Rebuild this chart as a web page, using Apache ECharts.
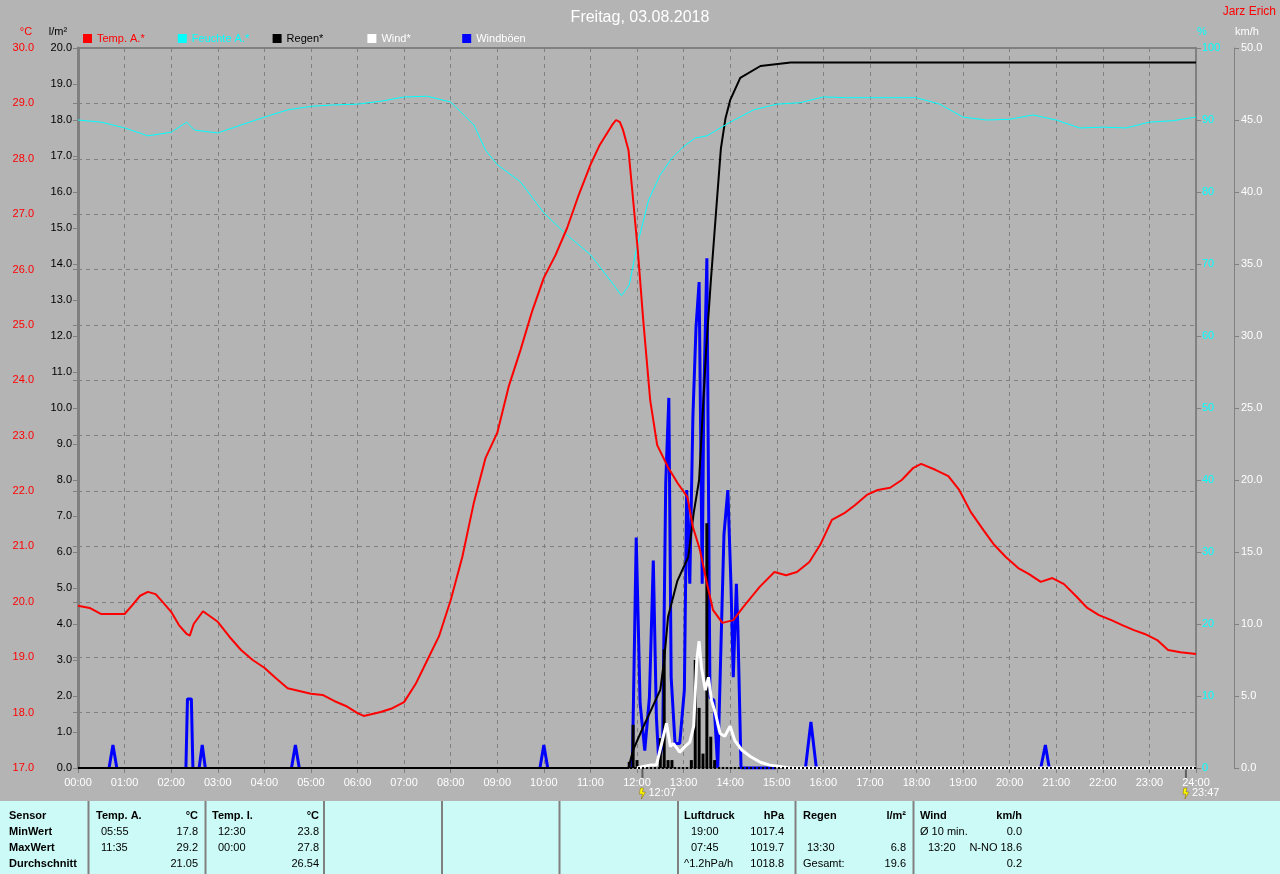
<!DOCTYPE html>
<html>
<head>
<meta charset="utf-8">
<title>Freitag, 03.08.2018</title>
<script src="https://cdn.jsdelivr.net/npm/echarts@6/dist/echarts.min.js"></script>
<style>
  html, body { margin: 0; padding: 0; background: #b4b4b4; }
  #chart { width: 1280px; height: 874px; }
</style>
</head>
<body>
<div id="chart"></div>
<script>
// values, time as HH:MM
const tempData = [
  ['00:00', 19.93], ['00:15', 19.89], ['00:30', 19.78], ['00:45', 19.78], ['01:00', 19.78],
  ['01:10', 19.94], ['01:20', 20.11], ['01:30', 20.18], ['01:40', 20.14], ['01:50', 19.98],
  ['02:00', 19.82], ['02:10', 19.58], ['02:20', 19.42], ['02:24', 19.39], ['02:29', 19.60],
  ['02:41', 19.83], ['03:00', 19.64], ['03:15', 19.37], ['03:30', 19.13], ['03:45', 18.95],
  ['04:00', 18.81], ['04:15', 18.62], ['04:30', 18.44], ['04:45', 18.39], ['05:00', 18.34],
  ['05:15', 18.32], ['05:30', 18.21], ['05:45', 18.12], ['06:00', 17.99], ['06:08', 17.94],
  ['06:30', 18.01], ['06:45', 18.08], ['07:00', 18.19], ['07:15', 18.52], ['07:30', 18.95],
  ['07:45', 19.38], ['08:00', 20.03], ['08:15', 20.81], ['08:30', 21.80], ['08:45', 22.60],
  ['09:00', 23.05], ['09:15', 23.90], ['09:30', 24.55], ['09:45', 25.25], ['10:00', 25.85],
  ['10:15', 26.26], ['10:30', 26.75], ['10:45', 27.35], ['11:00', 27.89], ['11:12', 28.25],
  ['11:28', 28.61], ['11:33', 28.70], ['11:38', 28.66], ['11:42', 28.52], ['11:49', 28.16],
  ['11:55', 27.26], ['12:01', 26.35], ['12:08', 25.09], ['12:17', 23.64], ['12:26', 22.83],
  ['12:40', 22.43], ['12:52', 22.15], ['13:05', 21.89], ['13:12', 21.35], ['13:21', 20.94],
  ['13:30', 20.34], ['13:38', 19.85], ['13:50', 19.62], ['14:04', 19.67], ['14:17', 19.91],
  ['14:38', 20.27], ['14:57', 20.54], ['15:12', 20.48], ['15:26', 20.54], ['15:42', 20.72],
  ['15:56', 21.03], ['16:11', 21.48], ['16:27', 21.60], ['16:41', 21.75], ['16:56', 21.93],
  ['17:10', 22.02], ['17:26', 22.06], ['17:41', 22.20], ['17:56', 22.42], ['18:06', 22.49],
  ['18:25', 22.38], ['18:41', 22.27], ['18:55', 22.02], ['19:10', 21.62], ['19:26', 21.30],
  ['19:40', 21.03], ['19:55', 20.81], ['20:11', 20.61], ['20:25', 20.50], ['20:40', 20.36],
  ['20:55', 20.43], ['21:10', 20.32], ['21:25', 20.11], ['21:40', 19.89], ['21:55', 19.76],
  ['22:11', 19.67], ['22:25', 19.58], ['22:40', 19.49], ['22:54', 19.42], ['23:10', 19.31],
  ['23:24', 19.13], ['23:40', 19.09], ['24:00', 19.06]
];

const humData = [
  ['00:00', 90.0], ['00:30', 89.7], ['01:00', 88.9], ['01:30', 87.8], ['02:00', 88.3],
  ['02:20', 89.7], ['02:30', 88.6], ['03:00', 88.2], ['03:30', 89.3], ['04:00', 90.4],
  ['04:30', 91.4], ['05:00', 91.9], ['05:30', 92.1], ['06:00', 92.2], ['06:30', 92.6],
  ['07:00', 93.2], ['07:30', 93.3], ['08:00', 92.5], ['08:30', 89.3], ['08:45', 85.8],
  ['09:00', 83.8], ['09:30', 81.4], ['10:00', 77.1], ['10:30', 74.0], ['11:00', 71.3],
  ['11:30', 67.1], ['11:40', 65.6], ['11:50', 67.1], ['12:00', 72.5], ['12:15', 78.9],
  ['12:30', 82.4], ['12:45', 84.7], ['13:00', 86.3], ['13:15', 87.5], ['13:30', 87.8],
  ['14:00', 89.7], ['14:30', 91.4], ['15:00', 92.2], ['15:30', 92.4], ['16:00', 93.2],
  ['16:30', 93.1], ['17:00', 93.1], ['17:30', 93.1], ['18:00', 93.1], ['18:30', 92.2],
  ['19:00', 90.4], ['19:30', 90.0], ['20:00', 90.1], ['20:30', 90.7], ['21:00', 90.0],
  ['21:30', 88.9], ['22:00', 89.0], ['22:30', 88.9], ['23:00', 89.7], ['23:30', 89.9],
  ['24:00', 90.4]
];

// 5 minute rain amounts (l/m²)
const rainBars = [
  ['11:50', 0.17], ['11:55', 1.2], ['12:00', 0.22], ['12:30', 0.83], ['12:35', 3.3],
  ['12:40', 0.22], ['12:45', 0.22], ['13:10', 0.22], ['13:15', 3.0], ['13:20', 1.67],
  ['13:25', 0.4], ['13:30', 6.8], ['13:35', 0.87], ['13:40', 0.22]
];

// rain sum (l/m²)
const rainSum = [
  ['00:00', 0], ['11:49', 0], ['11:55', 0.5], ['12:08', 1.14], ['12:17', 1.56],
  ['12:30', 2.17], ['12:35', 3.0], ['12:40', 4.2], ['12:52', 5.2], ['13:06', 5.86],
  ['13:13', 7.08], ['13:20', 8.0], ['13:29', 11.6], ['13:35', 13.5], ['13:42', 15.5],
  ['13:48', 17.2], ['13:54', 18.05], ['14:00', 18.55], ['14:13', 19.17], ['14:39', 19.5],
  ['15:18', 19.6], ['24:00', 19.6]
];

// wind (km/h)
const windData = [
  ['12:00', 0], ['12:08', 0.1], ['12:17', 0.2], ['12:25', 0.2], ['12:38', 3.1],
  ['12:43', 1.5], ['12:47', 1.7], ['12:55', 1.1], ['13:02', 1.5], ['13:08', 1.8],
  ['13:13', 2.9], ['13:17', 7.5], ['13:20', 8.8], ['13:23', 7.0], ['13:28', 5.4],
  ['13:32', 6.3], ['13:36', 4.7], ['13:41', 3.8], ['13:47', 2.4], ['13:53', 2.2],
  ['14:00', 2.9], ['14:06', 1.9], ['14:15', 1.25], ['14:26', 0.8], ['14:39', 0.4],
  ['14:51', 0.2], ['15:17', 0], ['24:00', 0]
];

// gusts (km/h); null = no gust, line broken
const gustData = [
  ['00:40', 0], ['00:45', 1.6], ['00:50', 0], ['00:55', null],
  ['02:19', 0], ['02:21', 4.8], ['02:26', 4.8], ['02:28', 0], ['02:32', null],
  ['02:36', 0], ['02:40', 1.6], ['02:44', 0], ['02:50', null],
  ['04:35', 0], ['04:40', 1.6], ['04:45', 0], ['04:50', null],
  ['09:55', 0], ['10:00', 1.6], ['10:05', 0], ['10:10', null],
  ['11:54', 0], ['11:59', 16.0], ['12:04', 4.5], ['12:10', 1.2], ['12:16', 4.9],
  ['12:21', 14.4], ['12:25', 3.5], ['12:28', 0.5], ['12:33', 1.6], ['12:37', 19.8],
  ['12:41', 25.7], ['12:44', 6.3], ['12:49', 1.7], ['12:55', 1.7], ['13:01', 5.4],
  ['13:04', 19.3], ['13:08', 12.8], ['13:12', 24.4], ['13:16', 30.6], ['13:20', 33.75],
  ['13:24', 12.8], ['13:26', 25.6], ['13:30', 35.4], ['13:34', 4.9], ['13:39', 4.7],
  ['13:44', 0], ['13:48', 8.2], ['13:52', 16.2], ['13:57', 19.3], ['14:01', 12.8],
  ['14:04', 6.3], ['14:08', 12.8], ['14:10', 9.6], ['14:14', 0], ['14:59', 0], ['15:05', null],
  ['15:37', 0], ['15:44', 3.2], ['15:51', 0], ['15:55', null],
  ['20:40', 0], ['20:46', 1.6], ['20:51', 0]
];

const markerTimes = ['12:07', '23:47'];

const legendNames = ['Temp. A.*', 'Feuchte A.*', 'Regen*', 'Wind*', 'Windböen'];
const legendTextColors = ['#ff0000', '#00ffff', '#000000', '#ffffff', '#ffffff'];

// bottom table, 4 rows x 11 columns
const tableRows = [
  ['Sensor', 'Temp. A.', '°C', 'Temp. I.', '°C', 'Luftdruck', 'hPa', 'Regen', 'l/m²', 'Wind', 'km/h'],
  ['MinWert', '05:55', '17.8', '12:30', '23.8', '19:00', '1017.4', '', '', 'Ø 10 min.', '0.0'],
  ['MaxWert', '11:35', '29.2', '00:00', '27.8', '07:45', '1019.7', '13:30', '6.8', '13:20', 'N-NO 18.6'],
  ['Durchschnitt', '', '21.05', '', '26.54', '^1.2hPa/h', '1018.8', 'Gesamt:', '19.6', '', '0.2']
];
const tableSeparators = [88.5, 205.5, 324, 442, 559.5, 678, 795.5, 913.5];

const hours = s => { const [h, m] = s.split(':').map(Number); return h + m / 60; };
const pts = arr => arr.map(([t, v]) => [hours(t), v]);
const two = n => (n < 10 ? '0' : '') + n;

const FONT = '"Liberation Sans", Arial, sans-serif';
const GRID_GRAY = '#808080';

const chart = echarts.init(document.getElementById('chart'));

const yBase = {
  type: 'value',
  axisLine: { show: true, lineStyle: { color: GRID_GRAY, width: 1 } },
  axisTick: { show: true, length: 5, lineStyle: { color: GRID_GRAY } },
  splitLine: { show: false }
};

const option = {
  animation: false,
  backgroundColor: '#b4b4b4',
  textStyle: { fontFamily: FONT },
  title: {
    text: 'Freitag, 03.08.2018',
    left: 'center',
    top: 5,
    textStyle: { color: '#ffffff', fontSize: 16, fontWeight: 'normal', fontFamily: FONT }
  },
  // one legend per item, evenly spaced like the original
  legend: legendNames.map((name, i) => ({
    left: 83 + i * 94.8,
    top: 33,
    padding: 0,
    selectedMode: false,
    icon: 'rect',
    itemWidth: 9,
    itemHeight: 9,
    itemGap: 5,
    textStyle: { fontSize: 11, fontFamily: FONT, color: legendTextColors[i] },
    data: [name]
  })),
  grid: {
    left: 78, right: 84, top: 48, bottom: 106,
    show: true, borderColor: GRID_GRAY, borderWidth: 2
  },
  xAxis: {
    type: 'value',
    min: 0, max: 24, interval: 1,
    axisLine: { show: true, lineStyle: { color: GRID_GRAY, width: 1 } },
    axisTick: { show: true, length: 5, lineStyle: { color: GRID_GRAY } },
    axisLabel: {
      color: '#ffffff', fontSize: 11, margin: 9,
      formatter: v => two(v) + ':00'
    },
    splitLine: { show: true, lineStyle: { color: GRID_GRAY, type: [4, 4], width: 1 } }
  },
  yAxis: [
    Object.assign({}, yBase, {
      min: 17, max: 30, interval: 1, position: 'left', offset: 37,
      axisLabel: { color: '#ff0000', fontSize: 11, margin: 7, formatter: v => v.toFixed(1) },
      splitLine: { show: true, lineStyle: { color: GRID_GRAY, type: [4, 4], width: 1 } }
    }),
    Object.assign({}, yBase, {
      min: 0, max: 20, interval: 1, position: 'left', offset: 0,
      axisLine: { show: true, lineStyle: { color: GRID_GRAY, width: 3 } },
      axisLabel: { color: '#000000', fontSize: 11, margin: 6, formatter: v => v.toFixed(1) }
    }),
    Object.assign({}, yBase, {
      min: 0, max: 100, interval: 10, position: 'right', offset: 0,
      axisLine: { show: true, lineStyle: { color: GRID_GRAY, width: 2 } },
      axisLabel: { color: '#00ffff', fontSize: 11, margin: 6 }
    }),
    Object.assign({}, yBase, {
      min: 0, max: 50, interval: 5, position: 'right', offset: 38,
      axisLabel: { color: '#ffffff', fontSize: 11, margin: 7, formatter: v => v.toFixed(1) }
    })
  ],
  series: [
    {
      name: 'Windböen', type: 'line', yAxisIndex: 3, data: pts(gustData),
      symbol: 'none', z: 2, connectNulls: false,
      lineStyle: { color: '#0000ff', width: 3 }, itemStyle: { color: '#0000ff' }
    },
    {
      name: 'Regen*', type: 'bar', yAxisIndex: 1, data: pts(rainBars),
      barWidth: 3, z: 3, itemStyle: { color: '#000000' }
    },
    {
      name: 'Wind*', type: 'line', yAxisIndex: 3, data: pts(windData),
      symbol: 'none', z: 4,
      lineStyle: { color: '#ffffff', width: 3 }, itemStyle: { color: '#ffffff' },
      markLine: {
        silent: true, symbol: 'none', label: { show: false },
        lineStyle: { color: '#000000', type: [2, 2], width: 2 },
        data: [{ yAxis: 0 }]
      }
    },
    {
      name: 'Regen*', type: 'line', yAxisIndex: 1, data: pts(rainSum),
      symbol: 'none', z: 5,
      lineStyle: { color: '#000000', width: 2 }, itemStyle: { color: '#000000' }
    },
    {
      name: 'Feuchte A.*', type: 'line', yAxisIndex: 2, data: pts(humData),
      symbol: 'none', z: 6,
      lineStyle: { color: '#00ffff', width: 1 }, itemStyle: { color: '#00ffff' }
    },
    {
      name: 'Temp. A.*', type: 'line', yAxisIndex: 0, data: pts(tempData),
      symbol: 'none', z: 7,
      lineStyle: { color: '#ff0000', width: 2 }, itemStyle: { color: '#ff0000' }
    }
  ]
};

chart.setOption(option);

// texts and table drawn around the plot
const txt = (x, y, text, color, style) => ({
  type: 'text', x, y, silent: true,
  style: Object.assign({
    text, fill: color, font: '11px ' + FONT,
    textAlign: 'left', textVerticalAlign: 'middle'
  }, style || {})
});

const elements = [
  txt(1276, 12, 'Jarz Erich', '#ff0000', { textAlign: 'right', font: '12px ' + FONT }),
  txt(26, 32, '°C', '#ff0000', { textAlign: 'center' }),
  txt(58, 32, 'l/m²', '#000000', { textAlign: 'center' }),
  txt(1202, 32, '%', '#00ffff', { textAlign: 'center' }),
  txt(1247, 32, 'km/h', '#ffffff', { textAlign: 'center' }),
  { type: 'rect', shape: { x: 0, y: 801, width: 1280, height: 73 }, style: { fill: '#ccfaf6' }, silent: true }
];

tableSeparators.forEach(x => {
  elements.push({
    type: 'line', silent: true,
    shape: { x1: x, y1: 801, x2: x, y2: 874 },
    style: { stroke: GRID_GRAY, lineWidth: 2 }
  });
});

// column x and alignment for the 11 table columns
const tableCols = [
  [9, 'left'], [96, 'left'], [198, 'right'], [212, 'left'], [319, 'right'],
  [684, 'left'], [784, 'right'], [803, 'left'], [906, 'right'], [920, 'left'], [1022, 'right']
];
const rowY = [816, 832, 848, 864];
tableRows.forEach((row, r) => {
  row.forEach((cell, c) => {
    if (!cell) return;
    let x = tableCols[c][0];
    // indented time values under the headers
    if (r > 0 && c === 1) x = 101;
    if (r > 0 && c === 3) x = 218;
    if (r > 0 && r < 3 && c === 5) x = 691;
    if (r === 2 && c === 7) x = 807;
    if (r === 2 && c === 9) x = 928;
    const bold = r === 0 || c === 0;
    elements.push(txt(x, rowY[r], cell, '#000000', {
      textAlign: tableCols[c][1], font: (bold ? 'bold ' : '') + '11px ' + FONT
    }));
  });
});

markerTimes.forEach(t => {
  const px = chart.convertToPixel({ xAxisIndex: 0 }, hours(t));
  elements.push({
    type: 'line', silent: true,
    shape: { x1: px, y1: 768, x2: px, y2: 778 },
    style: { stroke: '#606060', lineWidth: 2 }
  });
  elements.push({
    type: 'polygon', silent: true,
    shape: { points: [[px - 2, 788], [px + 1, 788], [px, 792], [px + 3, 792], [px - 1, 799], [px, 794], [px - 3, 794]] },
    style: { fill: '#ffff00', stroke: '#806000', lineWidth: 0.5 }
  });
  elements.push(txt(px + 6, 793, t, '#ffffff'));
});

chart.setOption({ graphic: { elements } });
</script>
</body>
</html>
